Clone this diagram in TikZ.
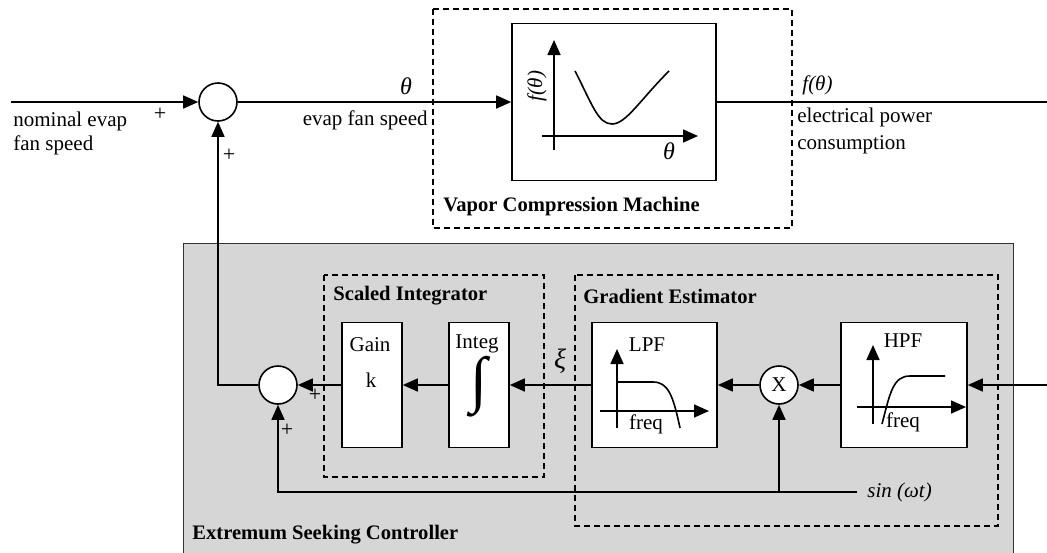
\documentclass[tikz,border=0pt]{standalone}
\usepackage{fontspec}
\setmainfont{Liberation Serif}
\usetikzlibrary{arrows.meta}
\definecolor{escgray}{RGB}{214,214,214}
\begin{document}
\begin{tikzpicture}[x=0.5pt,y=-0.5pt,
  wire/.style={line width=0.8pt},
  arr/.style={wire,-{Triangle[length=7.5pt,width=6.5pt]}},
  blk/.style={draw,line width=0.8pt,fill=white,minimum width=30pt,minimum height=62.5pt,inner sep=0pt},
  sumc/.style={draw,circle,line width=0.8pt,fill=white,minimum size=19pt,inner sep=0pt},
  grp/.style={draw,line width=0.8pt,dash pattern=on 3pt off 2pt},
  txt/.style={font=\fontsize{10.5}{12}\selectfont,inner sep=0pt},
  ttl/.style={font=\bfseries\fontsize{10.3}{12}\selectfont,inner sep=0pt,anchor=west},
  sgn/.style={font=\fontsize{11}{12}\selectfont,inner sep=0pt}]
\useasboundingbox (0,0) rectangle (1047,552);

% Extremum seeking controller background
\filldraw[fill=escgray,draw=black!80,line width=0.5pt] (183,243) rectangle (1013,560);
\node[ttl] (esctitle) at (192,535) {Extremum Seeking Controller};

% grouping frames
\draw[grp] (433,9) rectangle (792,228);
\node[ttl] (vcmtitle) at (443,207) {Vapor Compression Machine};
\draw[grp] (324,275) rectangle (544,477);
\node[ttl] (sititle) at (333,296) {Scaled Integrator};
\draw[grp] (575,275) rectangle (998,526);
\node[ttl] (getitle) at (583,296) {Gradient Estimator};

% blocks
\node[blk,minimum width=102pt,minimum height=78.5pt] (mach) at (614,102) {};
\node[sumc] (sum1) at (218,102) {};
\node[sumc] (sum2) at (278,385) {};
\node[sumc,txt,minimum size=19pt] (mult) at (779,385) {X};
\node[blk] (gain) at (372,385) {};
\node[blk] (integ) at (479,385) {};
\node[blk,minimum width=62.5pt] (lpf) at (654.5,385) {};
\node[blk,minimum width=63pt] (hpf) at (904,385) {};

% block contents
\node[txt] (gainlbl) at (370,345) {Gain};
\node[txt] (klbl) at (371,380) {k};
\node[txt] (integlbl) at (477,344) {Integ};
\node[inner sep=0pt] (intsym) at (479,387) {\fontsize{31}{31}\selectfont ∫};

% plant characteristic
\draw[arr] (554,150) -- (554,40);
\draw[arr] (542,136) -- (698,136);
\draw[wire] (575,71) .. controls (592,104) and (598,124) .. (612,124)
  .. controls (626,124) and (640,100) .. (669,71);
\node[txt,rotate=90,font=\itshape\fontsize{10.5}{12}\selectfont] (fax) at (537,86) {f(θ)};
\node[txt,font=\itshape\fontsize{12}{12}\selectfont] (thax) at (669,151) {θ};

% low-pass filter sketch
\node[txt] (lpflbl) at (647,345) {LPF};
\draw[arr] (617,428) -- (617,349);
\draw[arr] (600,411) -- (709,411);
\draw[wire] (617,382) -- (653,382) .. controls (668,382) and (673,395) .. (680,428);
\node[txt] (lpffreq) at (646,424) {freq};

% high-pass filter sketch
\node[txt] (hpflbl) at (903,341) {HPF};
\draw[arr] (873,424) -- (873,345);
\draw[arr] (857,407) -- (966,407);
\draw[wire] (882,424) .. controls (890,393) and (893,376) .. (910,376) -- (945,376);
\node[txt] (hpffreq) at (903,422) {freq};

% external signals
\coordinate (in1) at (11,102);
\coordinate (out1) at (1047,102);
\coordinate (in2) at (1047,385);
\coordinate (sinend) at (857,492);

% connectors
\draw[arr] (in1) -- (sum1);
\draw[arr] (sum1) -- (mach);
\draw[wire] (mach) -- (out1);
\draw[arr] (sum2.west) -| (sum1.south);
\draw[arr] (integ) -- (gain);
\draw[arr] (gain) -- (sum2);
\draw[arr] (lpf) -- (integ);
\draw[arr] (mult) -- (lpf);
\draw[arr] (hpf) -- (mult);
\draw[arr] (in2) -- (hpf);
\draw[arr] (sinend) -| (sum2.south);
\draw[arr] (mult.south |- sinend) -- (mult.south);

% signal labels
\node[txt,anchor=west,align=left,font=\fontsize{10.5}{12}\selectfont] (nomlbl) at (13,133) {nominal evap\\fan speed};
\node[txt,anchor=east] (evaplbl) at (428,120) {evap fan speed};
\node[txt,font=\itshape\fontsize{12}{12}\selectfont] (thlbl) at (406,86) {θ};
\node[txt,anchor=west,font=\itshape\fontsize{10.5}{12}\selectfont] (flbl) at (802,85) {f(θ)};
\node[txt,anchor=west,align=left,font=\fontsize{10.5}{13.5}\selectfont] (powlbl) at (797,130.5) {electrical power\\consumption};
\node[txt,font=\itshape\fontsize{14}{14}\selectfont] (xilbl) at (560,361) {ξ};
\node[txt,anchor=west,font=\itshape\fontsize{10.5}{12}\selectfont] (sinlbl) at (867,492) {sin (ωt)};

% summing signs
\node[sgn] (p1) at (160,114) {+};
\node[sgn] (p2) at (229,155) {+};
\node[sgn] (p3) at (315,395) {+};
\node[sgn] (p4) at (287,430) {+};
\end{tikzpicture}
\end{document}
